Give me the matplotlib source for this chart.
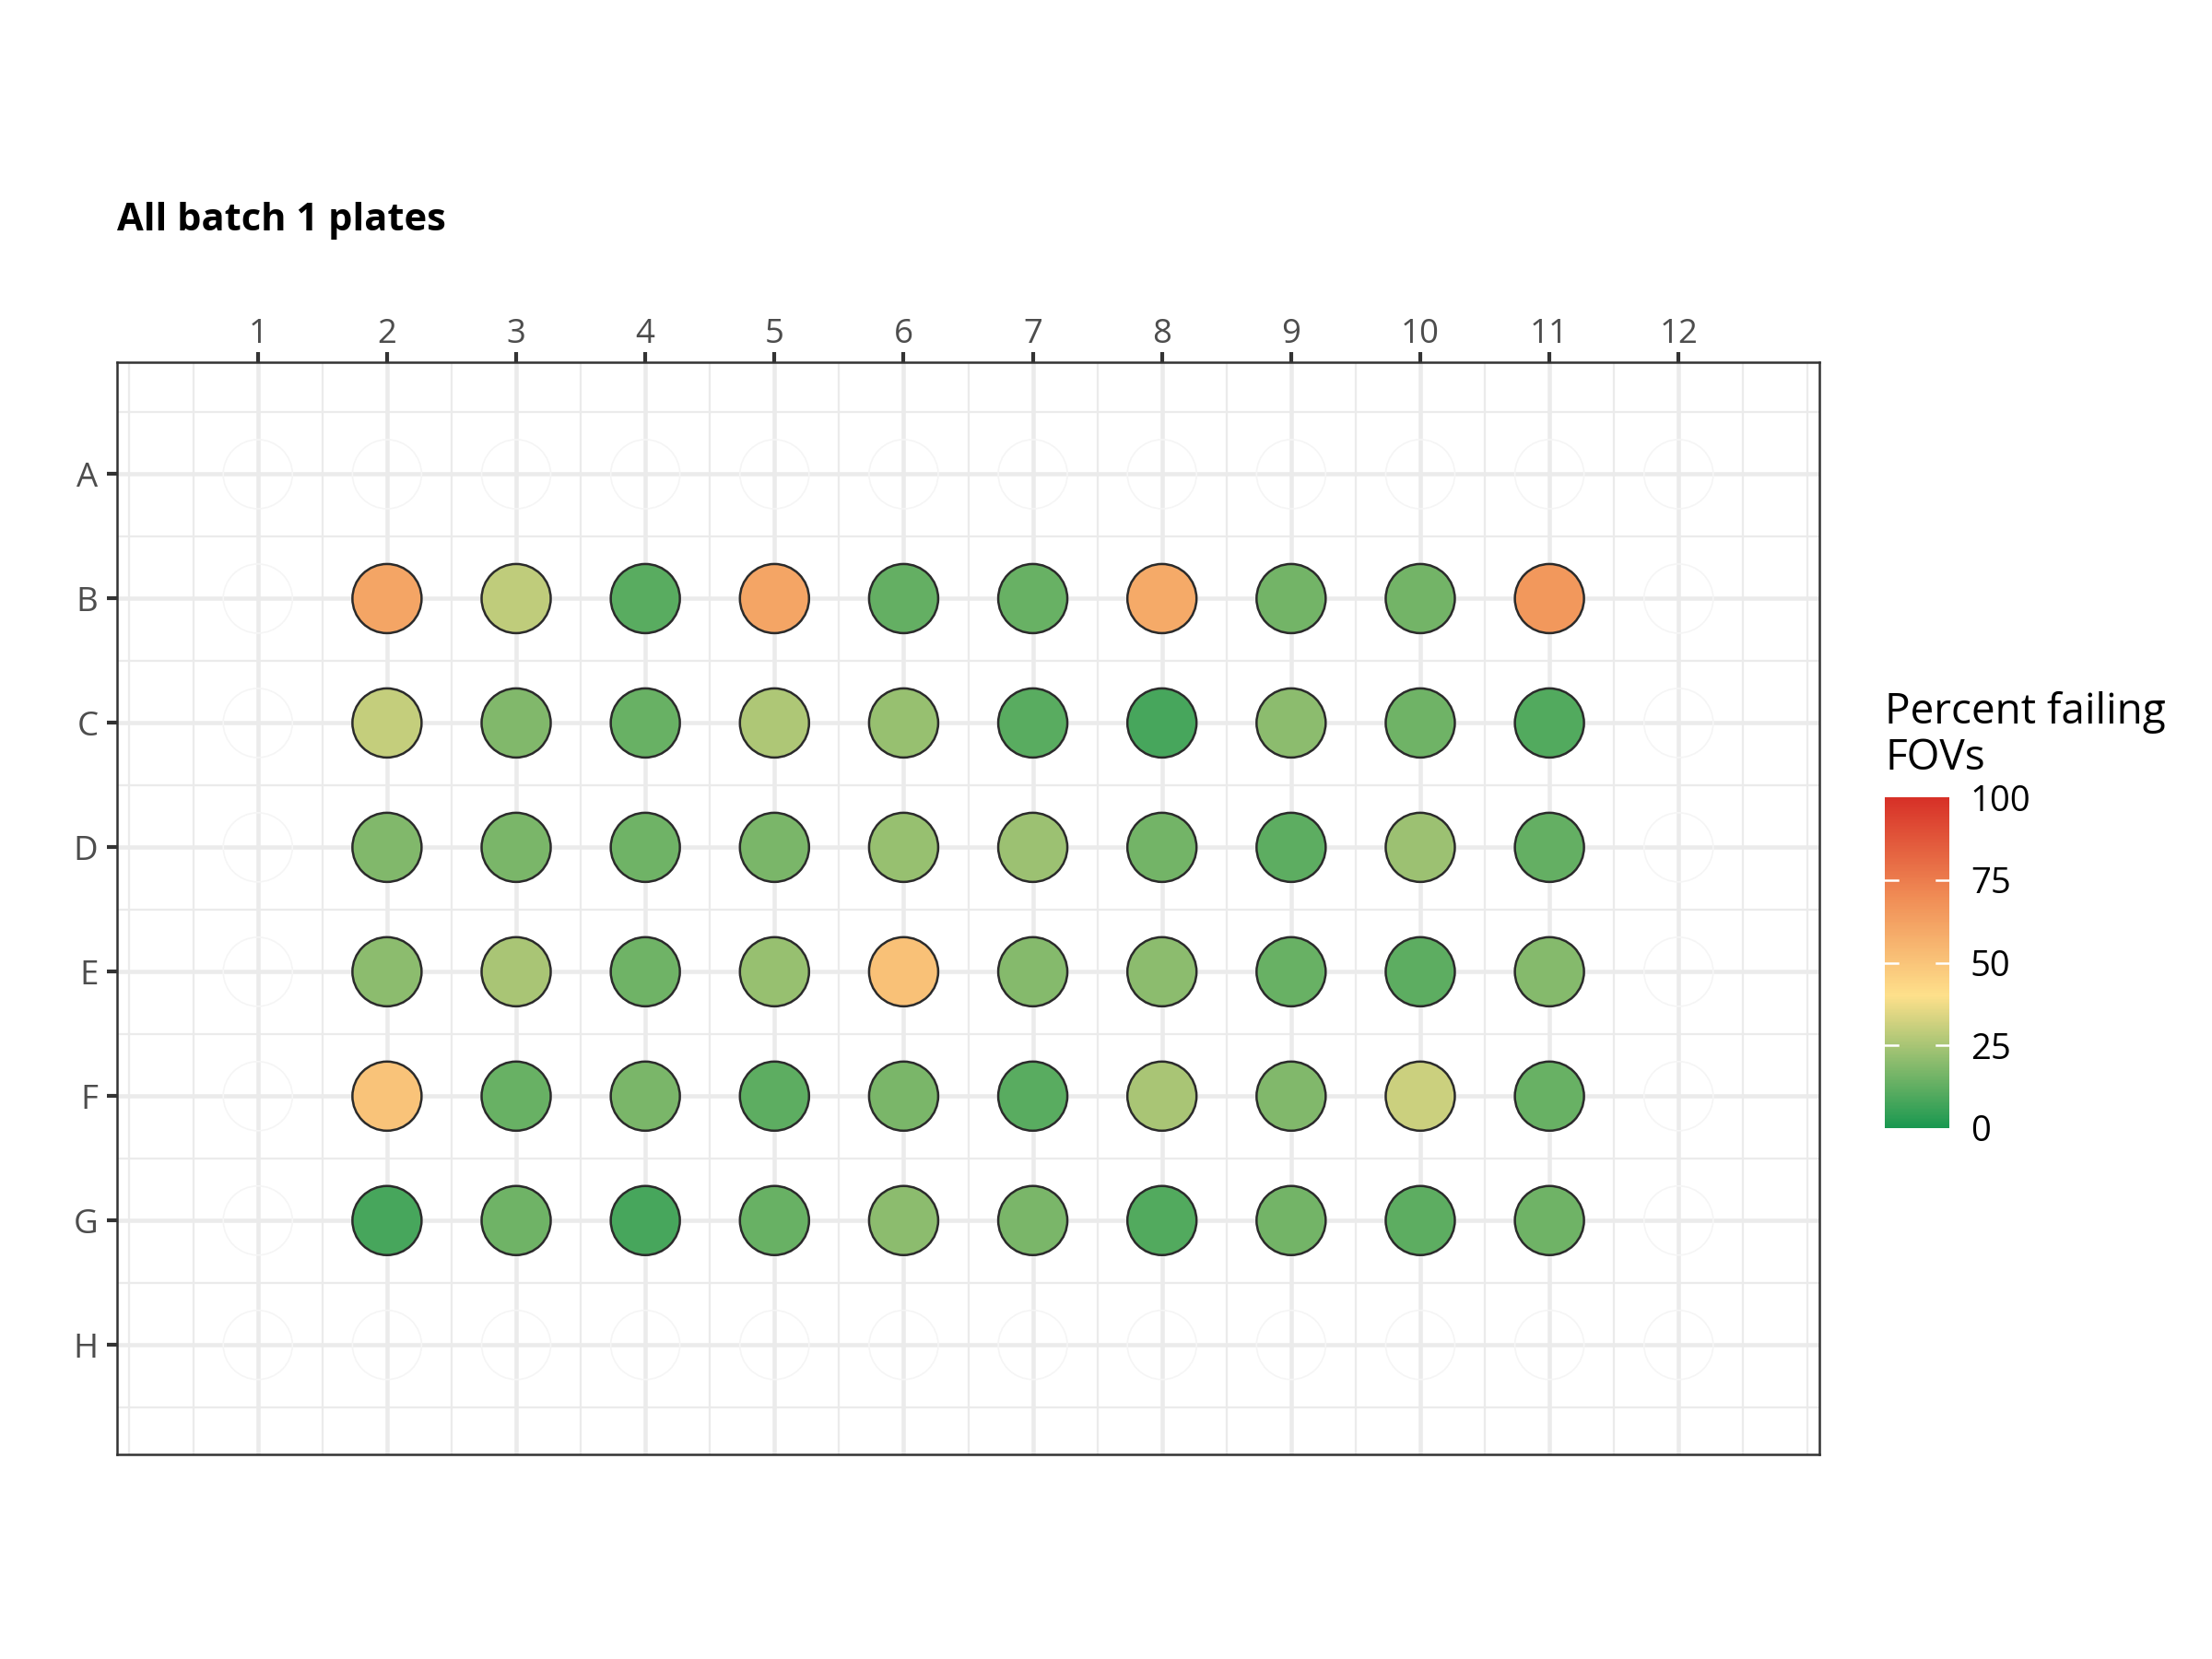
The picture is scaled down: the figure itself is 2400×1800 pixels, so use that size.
import numpy as np
import matplotlib.pyplot as plt
from matplotlib.colors import LinearSegmentedColormap

plt.rcParams['font.family'] = ['Open Sans', 'DejaVu Sans']

# plate layout
rows = ["A", "B", "C", "D", "E", "F", "G", "H"]
cols = [1, 2, 3, 4, 5, 6, 7, 8, 9, 10, 11, 12]

# percent failing FOVs for the filled wells (rows B-G, columns 2-11)
filled_rows = ["B", "C", "D", "E", "F", "G"]
filled_cols = [2, 3, 4, 5, 6, 7, 8, 9, 10, 11]
pct_B = [61, 29, 11, 61, 13, 14, 59, 16, 16, 66]
pct_C = [30, 18, 14, 26, 22, 11, 8, 20, 15, 10]
pct_D = [18, 17, 15, 17, 22, 23, 16, 12, 23, 13]
pct_E = [20, 25, 15, 22, 51, 19, 20, 14, 12, 19]
pct_F = [50, 14, 17, 12, 17, 11, 25, 18, 31, 14]
pct_G = [8, 15, 8, 14, 20, 17, 10, 16, 12, 15]
pct_rows = [pct_B, pct_C, pct_D, pct_E, pct_F, pct_G]

cmap = LinearSegmentedColormap.from_list(
    "fail", [(0.0, "#1a9850"), (0.4, "#fee08b"), (0.7, "#f08c55"), (1.0, "#d73027")])

fig = plt.figure(figsize=(8, 6), dpi=300)
ax = fig.add_axes([127 / 2400, 1 - 1578 / 1800, (1974 - 127) / 2400, (1578 - 393) / 1800])

# grid lines
for v in np.arange(0, 13.01, 0.5):
    major = float(v).is_integer() and 1 <= v <= 12
    ax.axvline(v, color="#ebebeb", lw=1.1 if major else 0.55, zorder=0)
for v in np.arange(0.5, 8.51, 0.5):
    major = float(v).is_integer()
    ax.axhline(v, color="#ebebeb", lw=1.1 if major else 0.55, zorder=0)

# empty well outlines
xx, yy = np.meshgrid(np.arange(1, len(cols) + 1), np.arange(1, len(rows) + 1))
ax.scatter(xx.ravel(), yy.ravel(), s=324, facecolors="none",
           edgecolors="#f5f5f5", linewidths=0.4, zorder=1)

# filled wells
xs, ys, vals = [], [], []
for r, pr in zip(filled_rows, pct_rows):
    for c, v in zip(filled_cols, pr):
        xs.append(c)
        ys.append(rows.index(r) + 1)
        vals.append(v)
sc = ax.scatter(xs, ys, c=vals, cmap=cmap, vmin=0, vmax=100, s=324,
                edgecolors="#2b2b2b", linewidths=0.6, zorder=3)

ax.set_xlim(-0.09, 13.09)
ax.set_ylim(8.88, 0.1)
ax.set_xticks(np.arange(1, len(cols) + 1))
ax.set_xticklabels([str(c) for c in cols])
ax.set_yticks(np.arange(1, len(rows) + 1))
ax.set_yticklabels(rows)
ax.xaxis.tick_top()
ax.tick_params(axis="both", length=2.75, width=1.0, color="#333333",
               labelsize=8.8, labelcolor="#4d4d4d", pad=2.2)
ax.tick_params(axis="x", pad=0.2)
for s in ax.spines.values():
    s.set_color("#333333")
    s.set_linewidth(0.6)

fig.text(127 / 2400, 1 - 250 / 1800, "All batch 1 plates", fontsize=10,
         fontweight="bold", ha="left", va="baseline")

# colorbar
cax = fig.add_axes([2045 / 2400, 1 - 1224 / 1800, 70 / 2400, 359 / 1800])
cb = fig.colorbar(sc, cax=cax, ticks=[0, 25, 50, 75, 100])
cb.outline.set_visible(False)
cax.tick_params(length=0, labelsize=9.2, labelcolor="black", pad=5.5)
for t in [25, 50, 75]:
    cax.plot([0, 0.2], [t, t], color="white", lw=0.6, transform=cax.get_yaxis_transform())
    cax.plot([0.8, 1], [t, t], color="white", lw=0.6, transform=cax.get_yaxis_transform())
fig.text(2045 / 2400, 1 - 750 / 1800, "Percent failing\nFOVs", fontsize=11,
         ha="left", va="top", linespacing=1.12)

fig.savefig("out.png", dpi=300)
